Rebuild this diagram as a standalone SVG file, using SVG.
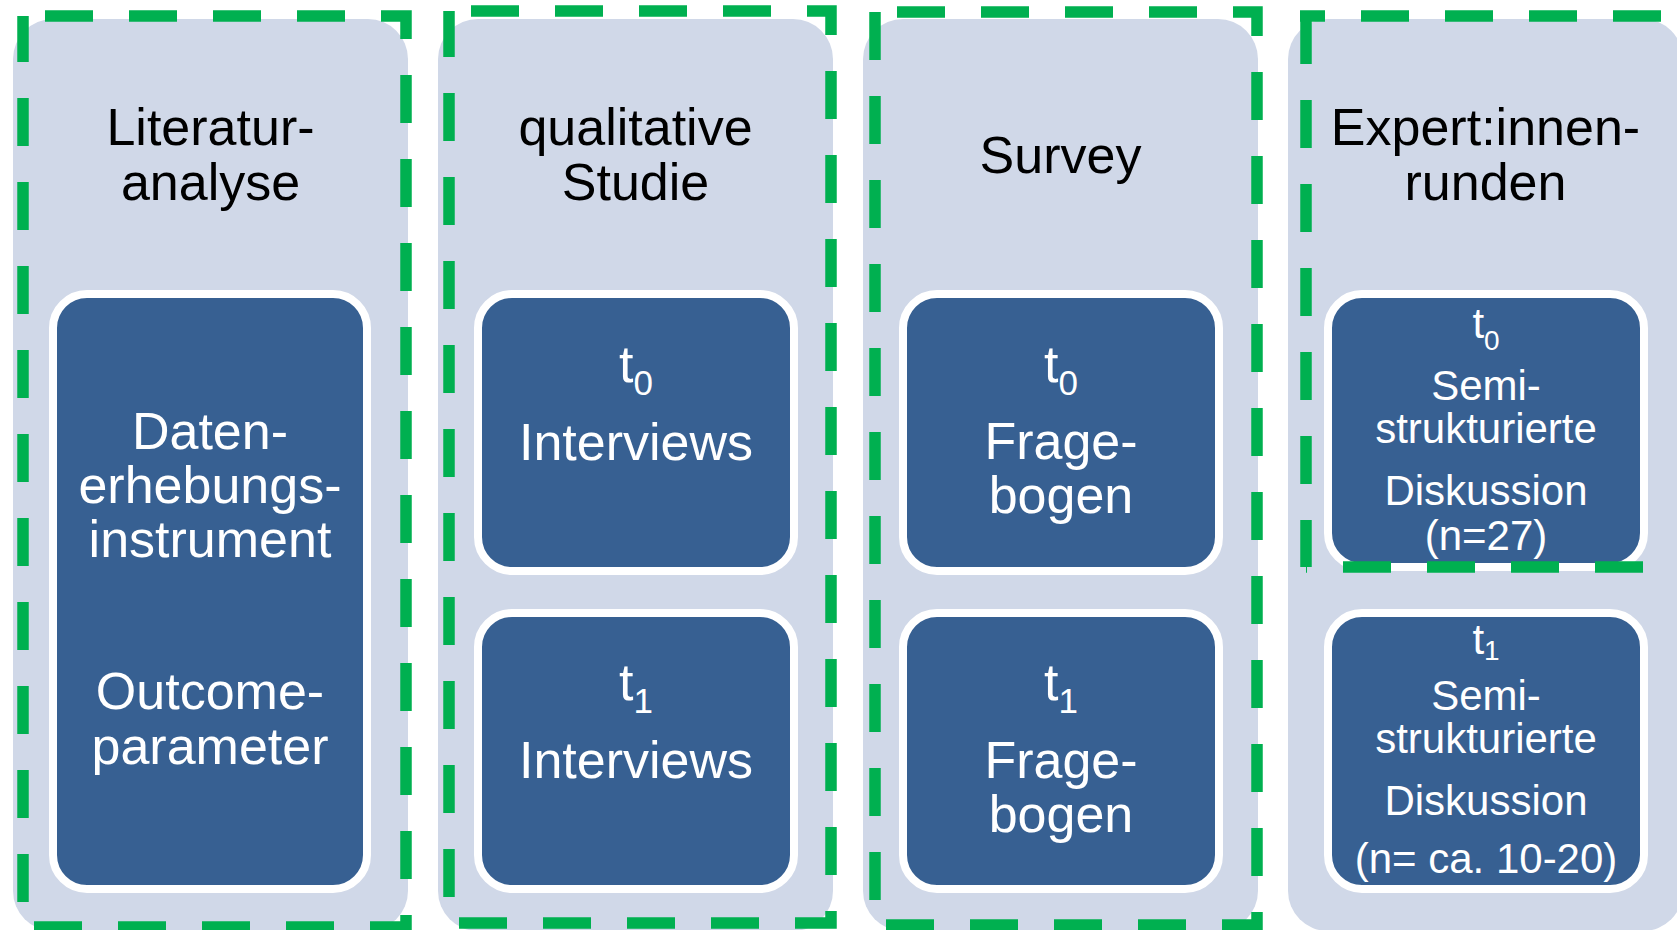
<svg xmlns="http://www.w3.org/2000/svg" width="1677" height="930" viewBox="0 0 1677 930">
<style>
.col{fill:#D0D8E8}
.box{fill:#376092;stroke:#FFFFFF;stroke-width:8}
.hd{font-family:"Liberation Sans",Arial,sans-serif;font-size:52px;fill:#000000;text-anchor:middle}
.tx{font-family:"Liberation Sans",Arial,sans-serif;font-size:52px;fill:#FFFFFF;text-anchor:middle}
.sm{font-family:"Liberation Sans",Arial,sans-serif;font-size:42px;fill:#FFFFFF;text-anchor:middle}
.gr{fill:none;stroke:#00B050;stroke-width:11.5;stroke-dasharray:48 36}
</style>
<rect width="1677" height="930" fill="#FFFFFF"/>

<g id="literaturanalyse">
<rect class="col" x="13" y="19" width="395" height="912" rx="40"/>
<text class="hd"><tspan x="210.5" y="145">Literatur-</tspan><tspan x="210.5" y="200">analyse</tspan></text>
<g id="lit-box">
<rect class="box" x="53" y="294" width="314" height="595" rx="34"/>
<text class="tx"><tspan x="210" y="449">Daten-</tspan><tspan x="210" y="503">erhebungs-</tspan><tspan x="210" y="557">instrument</tspan></text>
<text class="tx"><tspan x="210" y="709">Outcome-</tspan><tspan x="210" y="764">parameter</tspan></text>
</g>
</g>

<g id="qualitative-studie">
<rect class="col" x="438" y="19" width="395" height="912" rx="40"/>
<text class="hd"><tspan x="635.5" y="145">qualitative</tspan><tspan x="635.5" y="200">Studie</tspan></text>
<g id="qual-t0">
<rect class="box" x="478" y="294" width="316" height="277" rx="34"/>
<text class="tx" x="636" y="382">t<tspan font-size="35" dy="13">0</tspan></text>
<text class="tx" x="636" y="460">Interviews</text>
</g>
<g id="qual-t1">
<rect class="box" x="478" y="613" width="316" height="276" rx="34"/>
<text class="tx" x="636" y="700">t<tspan font-size="35" dy="13">1</tspan></text>
<text class="tx" x="636" y="778">Interviews</text>
</g>
</g>

<g id="survey">
<rect class="col" x="863" y="19" width="395" height="912" rx="40"/>
<text class="hd" x="1060.5" y="173">Survey</text>
<g id="survey-t0">
<rect class="box" x="903" y="294" width="316" height="277" rx="34"/>
<text class="tx" x="1061" y="382">t<tspan font-size="35" dy="13">0</tspan></text>
<text class="tx"><tspan x="1061" y="459">Frage-</tspan><tspan x="1061" y="513">bogen</tspan></text>
</g>
<g id="survey-t1">
<rect class="box" x="903" y="613" width="316" height="276" rx="34"/>
<text class="tx" x="1061" y="700">t<tspan font-size="35" dy="13">1</tspan></text>
<text class="tx"><tspan x="1061" y="778">Frage-</tspan><tspan x="1061" y="832">bogen</tspan></text>
</g>
</g>

<g id="expertinnenrunden">
<rect class="col" x="1288" y="19" width="395" height="912" rx="40"/>
<text class="hd"><tspan x="1485.5" y="145">Expert:innen-</tspan><tspan x="1485.5" y="200">runden</tspan></text>
<g id="exp-t0">
<rect class="box" x="1328" y="294" width="316" height="273" rx="34"/>
<text class="sm" x="1486" y="338" font-size="40">t<tspan font-size="28" dy="12">0</tspan></text>
<text class="sm"><tspan x="1486" y="400">Semi-</tspan><tspan x="1486" y="443">strukturierte</tspan><tspan x="1486" y="505">Diskussion</tspan><tspan x="1486" y="550">(n=27)</tspan></text>
</g>
<g id="exp-t1">
<rect class="box" x="1328" y="613" width="316" height="276" rx="34"/>
<text class="sm" x="1486" y="654" font-size="40">t<tspan font-size="28" dy="6">1</tspan></text>
<text class="sm"><tspan x="1486" y="710">Semi-</tspan><tspan x="1486" y="753">strukturierte</tspan><tspan x="1486" y="815">Diskussion</tspan><tspan x="1486" y="873">(n= ca. 10-20)</tspan></text>
</g>
</g>

<g id="connectors">
<rect class="gr" x="23" y="16" width="383" height="911" stroke-dashoffset="62"/>
<rect class="gr" x="449" y="11" width="382" height="912" stroke-dashoffset="62"/>
<rect class="gr" x="875" y="12" width="382" height="913" stroke-dashoffset="62"/>
<path class="gr" d="M1300 16 H1700" stroke-dashoffset="23"/>
<path class="gr" d="M1306 16 V567" stroke-dashoffset="0"/>
<path class="gr" d="M1306 567 H1700" stroke-dashoffset="47"/>
</g>
</svg>
